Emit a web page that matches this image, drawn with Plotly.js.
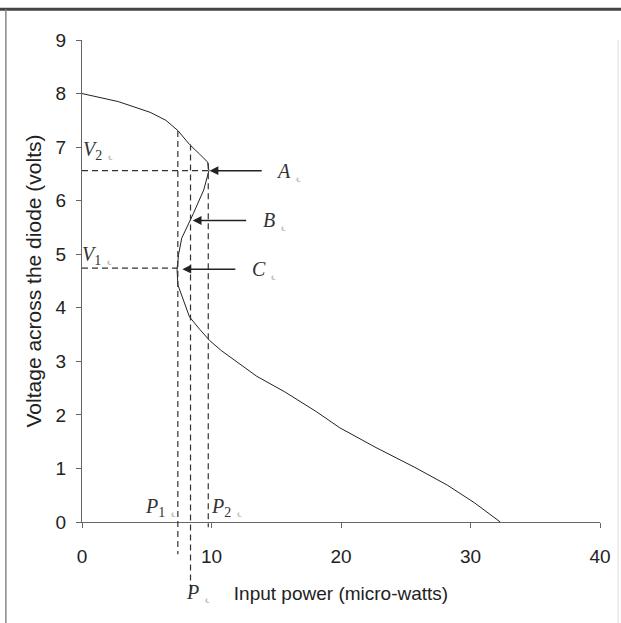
<!DOCTYPE html>
<html>
<head>
<meta charset="utf-8">
<script src="https://cdn.plot.ly/plotly-3.0.1.min.js"></script>
<style>html,body{margin:0;padding:0;background:#fff;}#chart{width:621px;height:623px;}</style>
</head>
<body>
<div id="chart"></div>
<script>
// Curve: input power (micro-watts) vs voltage across the diode (volts)
var powerValues = [0, 2.8, 5.26, 6.48, 7.4, 8.3, 9.08, 9.7, 9.8, 9.4, 8.6, 8.3, 7.7, 7.46, 7.34, 7.4, 7.86, 8.3, 9.08, 9.85, 10.76, 12, 13.5, 15.66, 18.1, 19.9, 22.7, 25.7, 28.2, 30.3, 32.3];
var voltageValues = [8, 7.85, 7.65, 7.5, 7.31, 7.05, 6.87, 6.72, 6.56, 6.2, 5.76, 5.61, 5.3, 5.0, 4.72, 4.43, 4.13, 3.83, 3.6, 3.39, 3.2, 2.98, 2.72, 2.43, 2.06, 1.76, 1.39, 1.02, 0.69, 0.36, 0];

// Marked levels
var levelV2 = 6.56, levelV1 = 4.74;
var powerMarks = [7.4, 8.38, 9.75];        // P1, P, P2
var powerMarkTops = [7.3, 7.05, 6.7];
var powerMarkBottoms = [-0.6, -1.35, -0.1];

// Arrow annotations: head x, level, label (tail) x
var arrowNames = ['A', 'B', 'C'];
var arrowHeadX = [9.85, 8.55, 7.75];
var arrowY = [6.56, 5.63, 4.72];
var arrowLabelX = [15.5, 14.3, 13.5];

var xRange = [0, 40], yRange = [0, 9];
var xTicks = [0, 10, 20, 30, 40];
var yTicks = [0, 1, 2, 3, 4, 5, 6, 7, 8, 9];

var dashStyle = {color: '#333', width: 1.2, dash: '6px,4px'};
var traces = [
  {x: powerValues, y: voltageValues, mode: 'lines', line: {color: '#222', width: 1}, hoverinfo: 'skip'},
  {x: [0, arrowHeadX[0]], y: [levelV2, levelV2], mode: 'lines', line: dashStyle},
  {x: [0, powerMarks[0]], y: [levelV1, levelV1], mode: 'lines', line: dashStyle}
];

function toPaperY(v) { return (v - yRange[0]) / (yRange[1] - yRange[0]); }

var shapes = [
  {type: 'line', xref: 'paper', yref: 'paper', x0: -0.16, x1: 1.05, y0: 1.064, y1: 1.064, line: {color: '#444', width: 3}},
  {type: 'line', xref: 'paper', yref: 'paper', x0: -0.147, x1: -0.147, y0: 1.064, y1: -0.22, line: {color: '#888', width: 1.5}},
  {type: 'line', xref: 'paper', yref: 'paper', x0: 1.035, x1: 1.035, y0: 1.0, y1: -0.22, line: {color: '#ddd', width: 1}}
];
for (var k = 0; k < powerMarks.length; k++) {
  shapes.push({type: 'line', xref: 'x', yref: 'paper', x0: powerMarks[k], x1: powerMarks[k],
    y0: toPaperY(powerMarkTops[k]), y1: toPaperY(powerMarkBottoms[k]), line: dashStyle});
}

var serif = {family: '"Liberation Serif", "Times New Roman", serif', size: 20, color: '#333'};
var smallMark = '<span style="color:#bbb"> ˛</span>';
var annotations = [];
for (var i = 0; i < arrowNames.length; i++) {
  annotations.push({x: arrowHeadX[i], y: arrowY[i], ax: arrowLabelX[i], ay: arrowY[i], xref: 'x', yref: 'y', axref: 'x', ayref: 'y',
    text: '\u00a0\u00a0\u00a0<i>' + arrowNames[i] + '</i>' + smallMark, font: serif,
    showarrow: true, arrowhead: 2, arrowsize: 1.1, arrowwidth: 1.6, arrowcolor: '#222'});
}
annotations.push({x: 1.3, y: 6.93, xref: 'x', yref: 'y', showarrow: false, text: '<i>V</i><sub>2</sub>' + smallMark, font: serif, yanchor: 'middle'});
annotations.push({x: 1.2, y: 4.97, xref: 'x', yref: 'y', showarrow: false, text: '<i>V</i><sub>1</sub>' + smallMark, font: serif, yanchor: 'middle'});
annotations.push({x: 6.1, y: 0.27, xref: 'x', yref: 'y', showarrow: false, text: '<i>P</i><sub>1</sub>' + smallMark, font: serif, yanchor: 'middle'});
annotations.push({x: 11.2, y: 0.27, xref: 'x', yref: 'y', showarrow: false, text: '<i>P</i><sub>2</sub>' + smallMark, font: serif, yanchor: 'middle'});
annotations.push({x: 9.0, y: toPaperY(-1.3), xref: 'x', yref: 'paper', showarrow: false, text: '<i>P</i>' + smallMark, font: serif, yanchor: 'middle'});

var layout = {
  width: 621, height: 623,
  margin: {l: 82, r: 21, t: 40, b: 101},
  paper_bgcolor: '#fff', plot_bgcolor: '#fff',
  showlegend: false,
  font: {family: '"Liberation Sans", Arial, sans-serif', color: '#222'},
  xaxis: {range: xRange, tickvals: xTicks, ticktext: xTicks.map(String), showgrid: false, zeroline: false,
    showline: true, linecolor: '#666', linewidth: 1, ticks: 'outside', ticklen: 5, tickcolor: '#666',
    tickfont: {size: 19, color: '#222'}, ticklabelstandoff: 12,
    title: {text: 'Input power (micro-watts)', font: {size: 19, color: '#222'}, standoff: 20}},
  yaxis: {range: yRange, tickvals: yTicks, ticktext: yTicks.map(String), showgrid: false, zeroline: false,
    showline: true, linecolor: '#666', linewidth: 1, ticks: 'outside', ticklen: 5, tickcolor: '#666',
    tickfont: {size: 19, color: '#222'}, ticklabelstandoff: 6,
    title: {text: 'Voltage across the diode (volts)', font: {size: 21, color: '#222'}, standoff: 8}},
  annotations: annotations,
  shapes: shapes
};

Plotly.newPlot('chart', traces, layout, {displayModeBar: false, staticPlot: true});
</script>
</body>
</html>
